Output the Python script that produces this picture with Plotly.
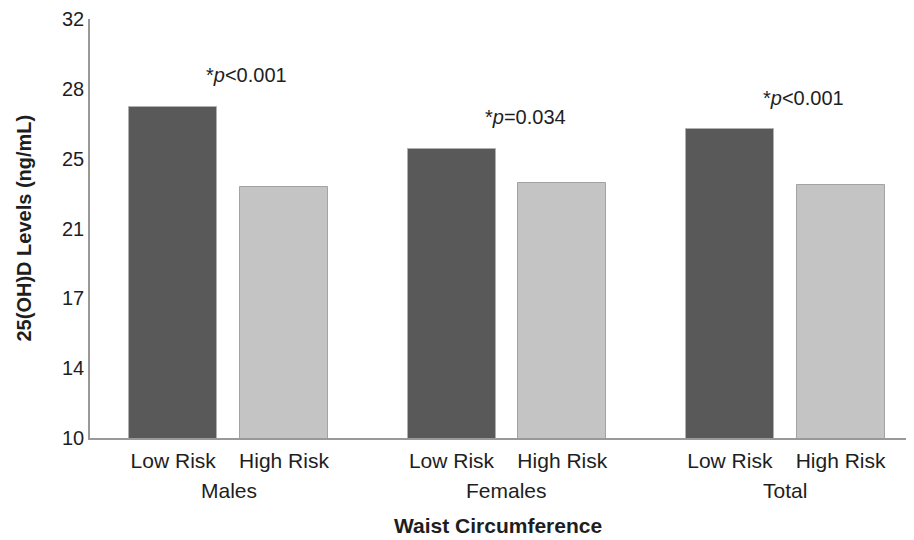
import plotly.graph_objects as go

# Mean 25(OH)D levels by waist-circumference risk group
groups = ["Males", "Females", "Total"]
risk_labels = ["Low Risk", "High Risk"]
low_risk = [27.4, 25.2, 26.2]
high_risk = [23.2, 23.4, 23.3]
p_labels = ["*<i>p</i>&lt;0.001", "*<i>p</i>=0.034", "*<i>p</i>&lt;0.001"]

y_min, y_max = 10, 32
n_steps = 6
y_tickvals = [y_min + k * (y_max - y_min) / n_steps for k in range(n_steps + 1)]
y_ticktext = [str(round(v)) for v in y_tickvals]

FONT = "Liberation Sans, Arial, sans-serif"
TEXT = "#1e1e1e"
AXIS = "#999999"
DARK = "#595959"
LIGHT = "#c4c4c4"

half_gap = 0.199
bar_w = 0.316
idx = list(range(len(groups)))
x_low = [i - half_gap for i in idx]
x_high = [i + half_gap for i in idx]

fig = go.Figure()
fig.add_trace(go.Bar(
    x=x_low, y=low_risk, width=bar_w, base=0,
    marker=dict(color=DARK, line=dict(color="#b0b0b0", width=1)),
    name="Low Risk", showlegend=False, hoverinfo="y",
))
fig.add_trace(go.Bar(
    x=x_high, y=high_risk, width=bar_w, base=0,
    marker=dict(color=LIGHT, line=dict(color="#a3a3a3", width=1)),
    name="High Risk", showlegend=False, hoverinfo="y",
))

annotations = []
# significance labels above each group
for i, (lbl, v) in enumerate(zip(p_labels, low_risk)):
    annotations.append(dict(
        x=i + 0.065, y=v + 1.65, xref="x", yref="y", text=lbl,
        showarrow=False, font=dict(family=FONT, size=20, color=TEXT),
        xanchor="center", yanchor="middle",
    ))
# group names under the risk labels
for i, g in enumerate(groups):
    annotations.append(dict(
        x=i, y=0, xref="x", yref="paper", text=g, showarrow=False,
        yshift=-52, font=dict(family=FONT, size=21, color=TEXT),
        xanchor="center", yanchor="middle",
    ))
annotations.append(dict(
    x=0.5, y=0, xref="paper", yref="paper", text="<b>Waist Circumference</b>",
    showarrow=False, yshift=-87, font=dict(family=FONT, size=21, color=TEXT),
    xanchor="center", yanchor="middle",
))
annotations.append(dict(
    x=-67 / 816, y=0.5, xref="paper", yref="paper",
    text="<b>25(OH)D Levels (ng/mL)</b>", textangle=-90, showarrow=False,
    font=dict(family=FONT, size=20, color=TEXT),
    xanchor="center", yanchor="middle",
))

fig.update_layout(
    width=914, height=540,
    margin=dict(l=90, r=8, t=19, b=102),
    paper_bgcolor="white", plot_bgcolor="white",
    font=dict(family=FONT, size=20, color=TEXT),
    annotations=annotations,
    bargap=0,
)
fig.update_xaxes(
    range=[-0.498, 2.434],
    tickmode="array",
    tickvals=x_low + x_high,
    ticktext=[risk_labels[0]] * 3 + [risk_labels[1]] * 3,
    showline=True, linecolor=AXIS, linewidth=1.5,
    showgrid=False, zeroline=False, ticks="",
    ticklabelstandoff=3,
    tickfont=dict(family=FONT, size=21, color=TEXT),
)
fig.update_yaxes(
    range=[y_min, y_max],
    tickmode="array", tickvals=y_tickvals, ticktext=y_ticktext,
    showline=True, linecolor=AXIS, linewidth=1.5,
    showgrid=False, zeroline=False, ticks="",
    tickfont=dict(family=FONT, size=20, color=TEXT),
)

fig.write_html("out.html")
